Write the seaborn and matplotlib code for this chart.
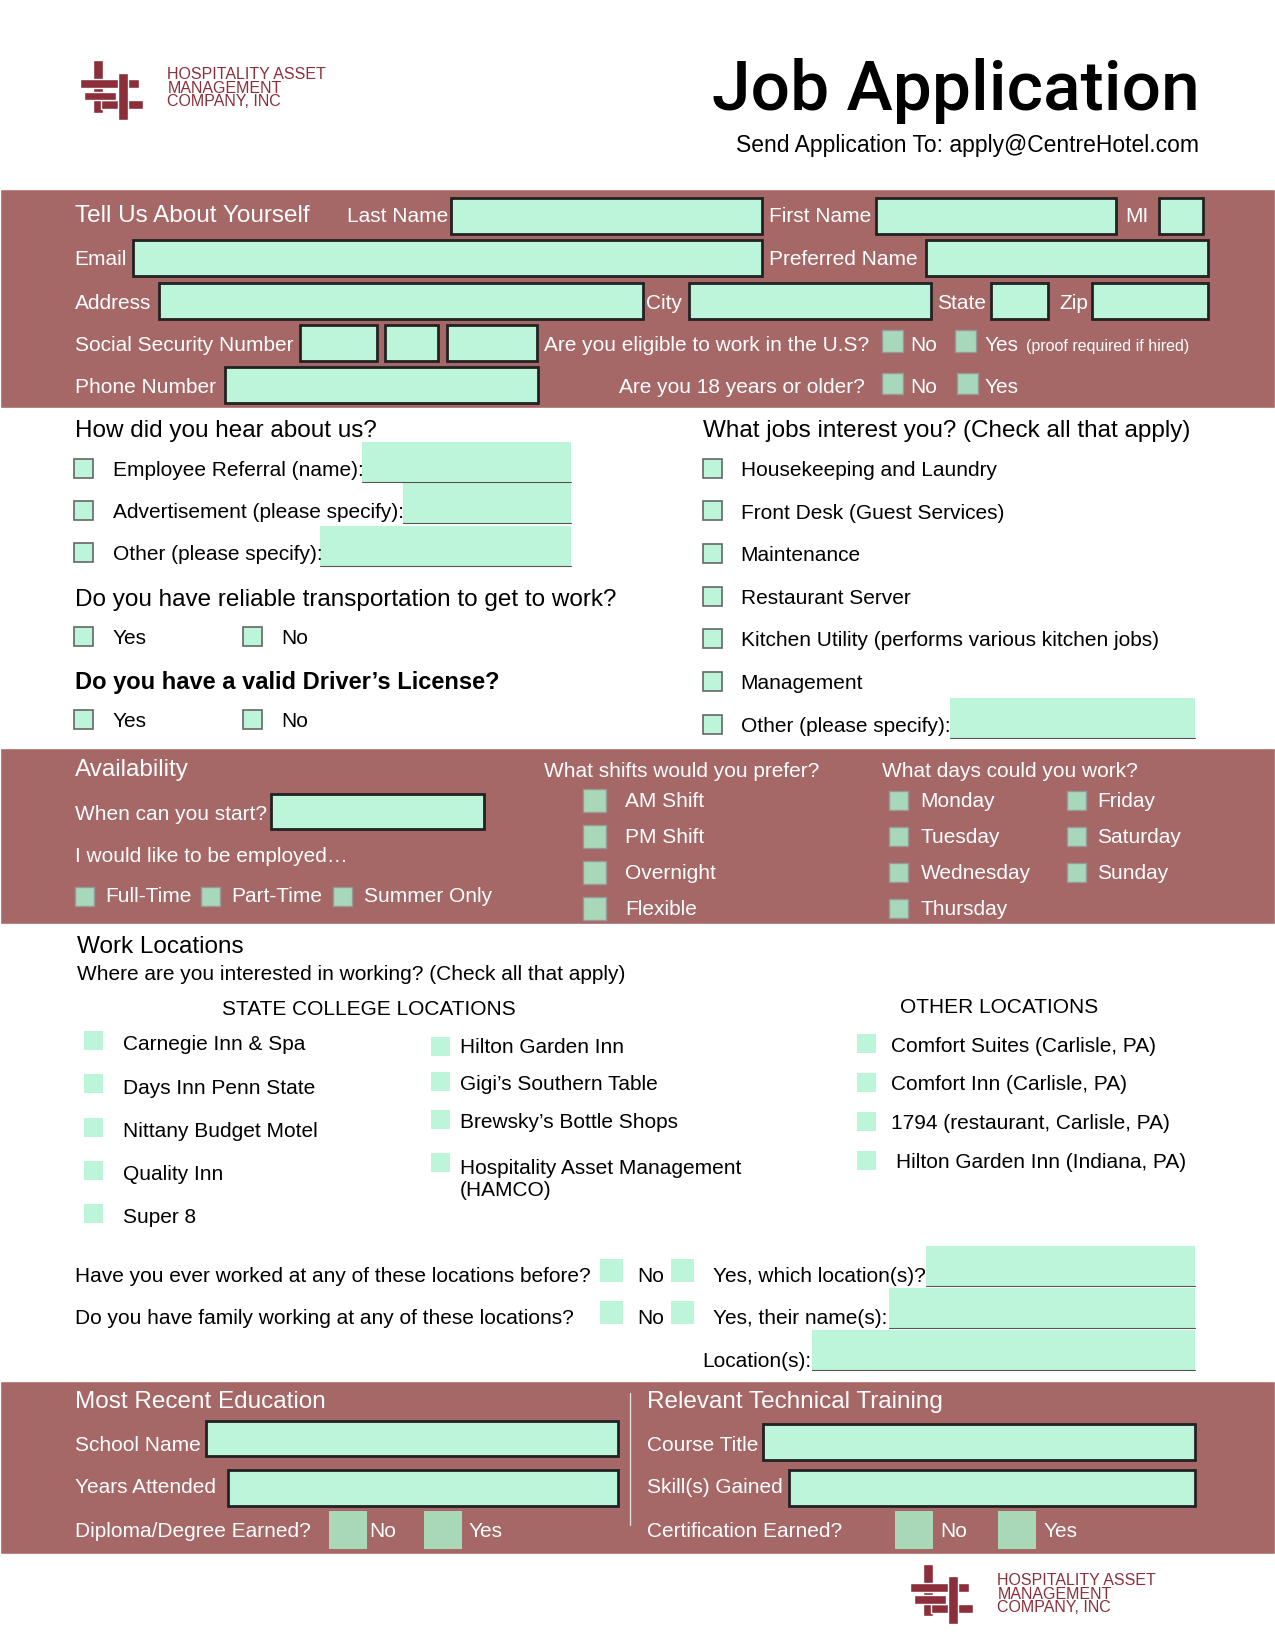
import matplotlib
matplotlib.use("Agg")
import matplotlib.pyplot as plt
import seaborn as sns
from matplotlib.patches import Rectangle

sns.set_theme(style="white", font="Liberation Sans")

BAND = "#A66767"
FIELD = "#BDF5DB"
CHK = "#A8D8BB"
LOGO = "#8B2F3A"
W, H = 1212, 1567
BODY = 15
HEAD = 17.5

# form content
hear_options = ["Employee Referral (name):", "Advertisement (please specify):", "Other (please specify):"]
job_options = ["Housekeeping and Laundry", "Front Desk (Guest Services)", "Maintenance", "Restaurant Server",
               "Kitchen Utility (performs various kitchen jobs)", "Management", "Other (please specify):"]
shifts = ["AM Shift", "PM Shift", "Overnight", "Flexible"]
days_left = ["Monday", "Tuesday", "Wednesday", "Thursday"]
days_right = ["Friday", "Saturday", "Sunday"]
employed = ["Full-Time", "Part-Time", "Summer Only"]
state_college = ["Carnegie Inn & Spa", "Days Inn Penn State", "Nittany Budget Motel", "Quality Inn", "Super 8"]
middle_locs = ["Hilton Garden Inn", "Gigi\u2019s Southern Table", "Brewsky\u2019s Bottle Shops",
               "Hospitality Asset Management\n(HAMCO)"]
other_locs = ["Comfort Suites (Carlisle, PA)", "Comfort Inn (Carlisle, PA)", "1794 (restaurant, Carlisle, PA)",
              "Hilton Garden Inn (Indiana, PA)"]

fig = plt.figure(figsize=(12.75, 16.49), dpi=100)
ax = fig.add_axes([0, 0, 1, 1])
ax.set_xlim(0, W)
ax.set_ylim(H, 0)
ax.axis("off")


def txt(x, y, s, size=BODY, color="black", **kw):
    ax.text(x, y, s, fontsize=size, color=color, va="center", ha=kw.pop("ha", "left"), **kw)


def field(x, y, w, h, edge=True, line=False):
    ax.add_patch(Rectangle((x, y), w, h, facecolor=FIELD,
                           edgecolor="#222222" if edge else "none", lw=2 if edge else 0))
    if line:
        ax.plot([x, x + w], [y + h, y + h], color="#555555", lw=0.8)


def check(x, y, s=18, band=False, fill=None, edge=True):
    if band:
        ec = "#999999" if edge else "none"
        ax.add_patch(Rectangle((x, y), s, s, facecolor=fill or CHK, edgecolor=ec, lw=1))
    else:
        ec = "#666666" if edge else "none"
        ax.add_patch(Rectangle((x, y), s, s, facecolor=fill or FIELD, edgecolor=ec, lw=1.2))


def logo(x0, y0):
    for (x, y, w, h) in [(12, 0, 10, 50), (0, 18, 56, 9), (20, 38, 40, 9), (36, 12, 10, 45), (4, 30, 30, 8)]:
        ax.add_patch(Rectangle((x0 + x, y0 + y), w, h, facecolor=LOGO))


def logo_text(x, y):
    txt(x, y, "HOSPITALITY ASSET\nMANAGEMENT\nCOMPANY, INC", size=11.5, color=LOGO, linespacing=0.88)


# header
logo(76, 58)
logo_text(159, 84)
txt(1140, 86, "Job Application", size=50, ha="right", family="Roboto", fontweight="medium")
txt(1140, 138, "Send Application To: apply@CentreHotel.com", size=16.5, ha="right")

# bands
for y0, y1 in [(181, 389), (712, 879), (1313, 1478)]:
    ax.add_patch(Rectangle((0, y0), W, y1 - y0, facecolor=BAND))

wc = "white"
# section 1
txt(71, 205, "Tell Us About Yourself", size=HEAD, color=wc)
txt(330, 206, "Last Name", color=wc)
field(429, 189, 295, 34)
txt(731, 206, "First Name", color=wc)
field(833, 189, 228, 34)
txt(1070, 206, "MI", color=wc)
field(1102, 189, 42, 34)
txt(71, 247, "Email", color=wc)
field(126, 229, 598, 34)
txt(731, 247, "Preferred Name", color=wc)
field(880, 229, 268, 34)
txt(71, 288, "Address", color=wc)
field(151, 270, 460, 34)
txt(614, 288, "City", color=wc)
field(655, 270, 230, 34)
txt(891, 288, "State", color=wc)
field(942, 270, 54, 34)
txt(1007, 288, "Zip", color=wc)
field(1038, 270, 110, 34)
txt(71, 328, "Social Security Number", color=wc)
for x, w in [(285, 73), (366, 50), (425, 85)]:
    field(x, 310, w, 34)
txt(517, 328, "Are you eligible to work in the U.S?", color=wc)
check(838, 315, 20, band=True)
txt(865, 328, "No", color=wc)
check(908, 315, 20, band=True)
txt(936, 328, "Yes", color=wc)
txt(975, 329, "(proof required if hired)", size=11.5, color=wc)
txt(71, 368, "Phone Number", color=wc)
field(214, 350, 297, 34)
txt(588, 368, "Are you 18 years or older?", color=wc)
check(838, 355, 20, band=True)
txt(865, 368, "No", color=wc)
check(910, 355, 20, band=True)
txt(936, 368, "Yes", color=wc)

# section 2 left
txt(71, 410, "How did you hear about us?", size=HEAD)
hear_fields = [(344, 421, 199), (383, 460, 160), (304, 501, 239)]
for i, s in enumerate(hear_options):
    y = 447 + i * 40
    check(70, y - 10)
    txt(107, y, s)
    fx, fy, fw = hear_fields[i]
    field(fx, fy, fw, 38, edge=False, line=True)
txt(71, 570, "Do you have reliable transportation to get to work?", size=HEAD)
txt(71, 649, "Do you have a valid Driver\u2019s License?", size=HEAD - 0.5, fontweight="bold")
for y in [607, 686]:
    check(70, y - 10)
    txt(107, y, "Yes")
    check(231, y - 10)
    txt(267, y, "No")

# section 2 right
txt(668, 410, "What jobs interest you? (Check all that apply)", size=HEAD)
for i, s in enumerate(job_options):
    y = 447 + i * 40.5
    check(668, y - 10)
    txt(704, y, s)
field(903, 664, 233, 38, edge=False, line=True)

# availability
txt(71, 732, "Availability", size=HEAD, color=wc)
txt(71, 774, "When can you start?", color=wc)
field(258, 755, 202, 34)
txt(71, 814, "I would like to be employed\u2026", color=wc)
for x, s in zip([71, 191, 317], employed):
    check(x, 844, 18, band=True)
    txt(x + 29, 852, s, color=wc)
txt(517, 733, "What shifts would you prefer?", color=wc)
for i, s in enumerate(shifts):
    y = 762 + i * 34
    check(554, y - 11, 22, band=True, fill="#A9D8B8")
    txt(594, y, s, color=wc)
txt(838, 733, "What days could you work?", color=wc)
for i, s in enumerate(days_left):
    y = 762 + i * 34
    check(845, y - 9, 18, band=True)
    txt(875, y, s, color=wc)
for i, s in enumerate(days_right):
    y = 762 + i * 34
    check(1014, y - 9, 18, band=True)
    txt(1043, y, s, color=wc)

# work locations
txt(73, 900, "Work Locations", size=HEAD)
txt(73, 926, "Where are you interested in working? (Check all that apply)")
txt(211, 959, "STATE COLLEGE LOCATIONS")
txt(856, 957, "OTHER LOCATIONS")
for i, s in enumerate(state_college):
    y = 993 + i * 41
    check(80, y - 12, 18, edge=False)
    txt(117, y, s)
for i, s in enumerate(middle_locs):
    check(410, [986, 1020, 1056, 1097][i], 18, edge=False)
    txt(437, [995, 1031, 1067, 1121][i], s)
for i, s in enumerate(other_locs):
    y = 994 + i * 37
    check(815, y - 10, 18, edge=False)
    txt(847 if i < 3 else 852, y, s)

txt(71, 1213, "Have you ever worked at any of these locations before?")
txt(71, 1253, "Do you have family working at any of these locations?")
for y, s, fx in [(1213, "Yes, which location(s)?", 880), (1253, "Yes, their name(s):", 845)]:
    check(570, y - 16, 22, edge=False)
    txt(606, y, "No")
    check(638, y - 16, 22, edge=False)
    txt(678, y, s)
    field(fx, y - 28, 1136 - fx, 38, edge=False, line=True)
txt(668, 1294, "Location(s):")
field(772, 1265, 364, 38, edge=False, line=True)

# education
ax.plot([599, 599], [1325, 1450], color="#dddddd", lw=1)
txt(71, 1332, "Most Recent Education", size=HEAD, color=wc)
txt(71, 1374, "School Name", color=wc)
field(196, 1351, 391, 34)
txt(71, 1414, "Years Attended", color=wc)
field(217, 1398, 370, 34)
txt(71, 1455, "Diploma/Degree Earned?", color=wc)
for x, s, dx in [(313, "No", 38), (403, "Yes", 42)]:
    check(x, 1437, 36, band=True, fill="#A9D8B8", edge=False)
    txt(x + dx, 1455, s, color=wc)
txt(615, 1332, "Relevant Technical Training", size=HEAD, color=wc)
txt(615, 1374, "Course Title", color=wc)
field(725, 1354, 411, 34)
txt(615, 1414, "Skill(s) Gained", color=wc)
field(750, 1398, 386, 34)
txt(615, 1455, "Certification Earned?", color=wc)
for x, s in [(851, "No"), (949, "Yes")]:
    check(x, 1437, 36, band=True, fill="#A9D8B8", edge=False)
    txt(x + 43, 1455, s, color=wc)

# footer logo
logo(865, 1487)
logo_text(948, 1515)

fig.savefig("out.png", dpi=100, facecolor="white")
